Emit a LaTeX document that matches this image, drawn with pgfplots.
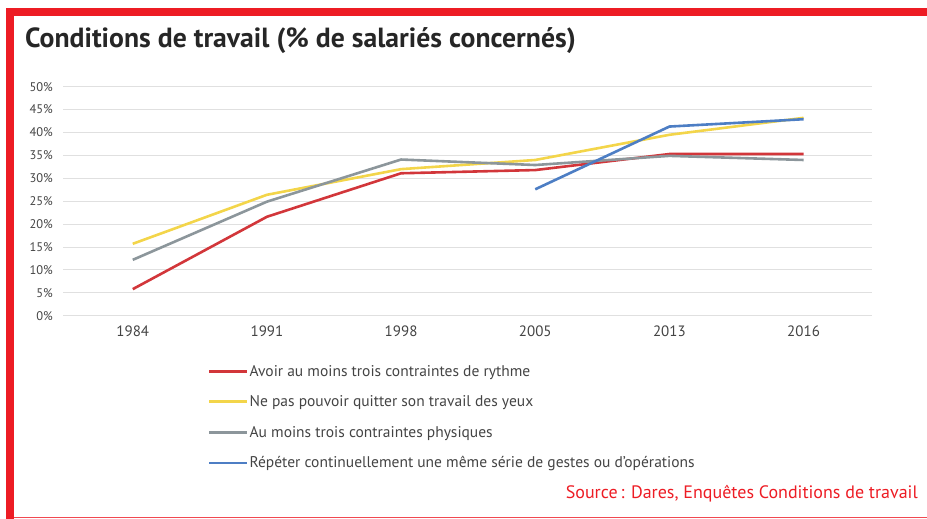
\documentclass[border=0pt]{standalone}
\usepackage{pgfplots}
\pgfplotsset{compat=1.18}
\usepackage{fontspec}
\setmainfont{PT Sans}
\definecolor{bred}{HTML}{ED1C24}
\definecolor{cred}{HTML}{D2363A}
\definecolor{cyel}{HTML}{F3D54A}
\definecolor{cgray}{HTML}{8C969B}
\definecolor{cblue}{HTML}{4D7EC4}
\definecolor{txt}{HTML}{444444}
\begin{document}
\begin{tikzpicture}[x=1pt,y=1pt]
\useasboundingbox (0pt,0pt) rectangle (927pt,-519pt);
\fill[bred] (6pt,-8pt) rectangle (927pt,-16pt);
\fill[bred] (6pt,-8pt) rectangle (14pt,-519pt);
\draw[bred!80, line width=1.5pt] (14pt,-517.5pt) -- (927pt,-517.5pt);
\node[anchor=base west, inner sep=0, font=\fontsize{27.7}{32}\selectfont\bfseries, text=black!85] at (25pt,-48pt) {Conditions de travail (\% de salariés concernés)};
\node[anchor=base east, inner sep=0, font=\fontsize{18}{21}\selectfont, text=bred] at (918pt,-498pt) {Source\,: Dares, Enquêtes Conditions de travail};
\begin{axis}[
  at={(63pt,-315.7pt)}, anchor=south west, scale only axis,
  width=809pt, height=229pt,
  xmin=-0.52, xmax=5.51, ymin=0, ymax=50,
  axis line style={draw=none},
  major tick length=0pt,
  ytick={0,5,...,50},
  yticklabel={\pgfmathprintnumber{\tick}\%},
  xtick={0,1,2,3,4,5},
  xticklabels={1984,1991,1998,2005,2013,2016},
  ymajorgrids,
  major grid style={draw=black!12, line width=1pt},
  /pgf/number format/assume math mode=true,
  ticklabel style={text=txt, inner sep=0pt},
  yticklabel style={font=\fontsize{12.5}{14}\selectfont, anchor=east, xshift=-10pt},
  xticklabel style={font=\fontsize{15}{17}\selectfont, anchor=north, yshift=-10pt},
  legend image code/.code={\draw[#1, line width=2.6pt] (0pt,0pt) -- (38pt,0pt);},
  legend style={at={(axis description cs:0.179,-0.21)}, anchor=north west,
    draw=none, fill=none, inner sep=0pt, row sep=16pt,
    font=\fontsize{15.5}{17}\selectfont, text=txt,
    nodes={inner sep=1pt}},
  legend cell align=left,
  every axis plot/.append style={line width=2.6pt, line join=round},
]
\addplot[cred] coordinates {(0,5.8) (1,21.6) (2,31.1) (3,31.8) (4,35.3) (5,35.3)};
\addlegendentry{Avoir au moins trois contraintes de rythme}
\addplot[cyel] coordinates {(0,15.7) (1,26.4) (2,32.0) (3,34.0) (4,39.5) (5,43.2)};
\addlegendentry{Ne pas pouvoir quitter son travail des yeux}
\addplot[cgray] coordinates {(0,12.2) (1,24.9) (2,34.1) (3,32.9) (4,34.9) (5,34.0)};
\addlegendentry{Au moins trois contraintes physiques}
\addplot[cblue] coordinates {(3,27.6) (4,41.3) (5,42.9)};
\addlegendentry{Répéter continuellement une même série de gestes ou d'opérations}
\end{axis}
\end{tikzpicture}
\end{document}
